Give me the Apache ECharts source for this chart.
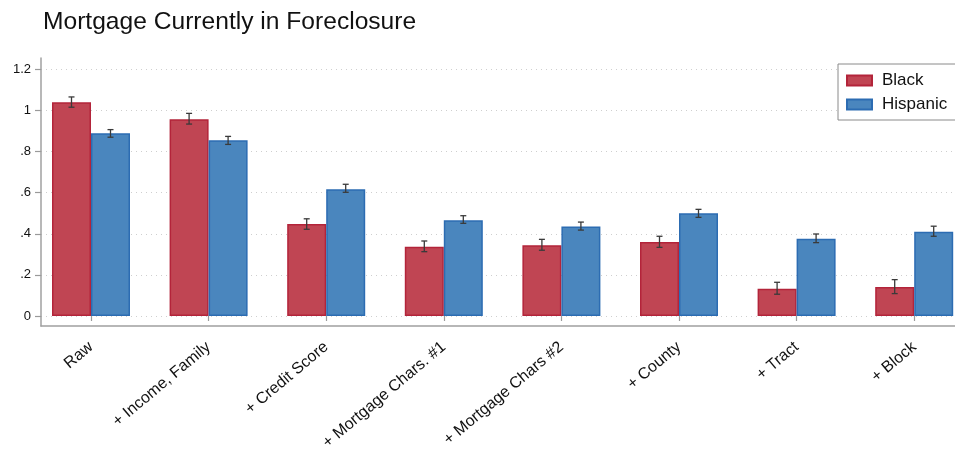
<!DOCTYPE html>
<html>
<head>
<meta charset="utf-8">
<script src="https://cdn.jsdelivr.net/npm/echarts@6/dist/echarts.min.js"></script>
<style>
  html, body { margin: 0; padding: 0; background: #fff; }
  #chart { width: 955px; height: 455px; }
</style>
</head>
<body>
<div id="chart"></div>
<script>
// Specification steps, left to right
const categories = ['Raw', '+ Income, Family', '+ Credit Score', '+ Mortgage Chars. #1',
  '+ Mortgage Chars #2', '+ County', '+ Tract', '+ Block'];

// Point estimates and 95% confidence bounds
const blackValues = [1.040, 0.957, 0.448, 0.337, 0.344, 0.360, 0.133, 0.141];
const blackLow    = [1.016, 0.934, 0.422, 0.313, 0.320, 0.334, 0.106, 0.109];
const blackHigh   = [1.066, 0.986, 0.473, 0.365, 0.373, 0.388, 0.164, 0.177];

const hispanicValues = [0.889, 0.855, 0.617, 0.466, 0.436, 0.500, 0.376, 0.410];
const hispanicLow    = [0.870, 0.835, 0.602, 0.451, 0.418, 0.480, 0.357, 0.388];
const hispanicHigh   = [0.907, 0.874, 0.641, 0.488, 0.457, 0.519, 0.399, 0.437];

const yTicks = [0, 0.2, 0.4, 0.6, 0.8, 1.0, 1.2];

const FONT = '"Liberation Sans", Arial, Helvetica, sans-serif';
const Y_MIN = -0.0487, Y_MAX = 1.2555;

// Horizontal layout: one step per category, the plot runs past the right edge
const CHART_W = 955;
const PLOT_LEFT = 32.2;
const STEP_PX = 117.6;
const BAR_PX = 39;
const X_MIN = -0.5;
const X_MAX = X_MIN + (CHART_W - PLOT_LEFT) / STEP_PX;
const catIndex = categories.map((_, i) => i);

function fmtTick(v) {
  if (v === 0) return '0';
  let s = String(+v.toFixed(2));
  return s.replace(/^0\./, '.');
}

function pairs(values) {
  return values.map((v, i) => [i, v]);
}

function errorBars(low, high, side) {
  return low.map((l, i) => [i, l, high[i], side]);
}

function renderErrorBar(params, api) {
  const idx = api.value(0);
  const side = api.value(3);
  const cx = api.coord([idx, 0])[0] + side * BAR_PX / 2;
  const yLo = api.coord([idx, api.value(1)])[1];
  const yHi = api.coord([idx, api.value(2)])[1];
  const cap = 3;
  const style = { stroke: '#3a3a3a', lineWidth: 1.3, fill: null };
  return {
    type: 'group',
    children: [
      { type: 'line', shape: { x1: cx, y1: yLo, x2: cx, y2: yHi }, style },
      { type: 'line', shape: { x1: cx - cap, y1: yHi, x2: cx + cap, y2: yHi }, style },
      { type: 'line', shape: { x1: cx - cap, y1: yLo, x2: cx + cap, y2: yLo }, style }
    ]
  };
}

const chart = echarts.init(document.getElementById('chart'), null, { renderer: 'canvas' });

chart.setOption({
  animation: false,
  backgroundColor: '#ffffff',
  textStyle: { fontFamily: FONT },
  title: {
    text: 'Mortgage Currently in Foreclosure',
    left: 38,
    top: 5,
    textStyle: { fontFamily: FONT, fontSize: 24.6, fontWeight: 'normal', color: '#111' }
  },
  legend: {
    orient: 'vertical',
    left: 838,
    top: 64,
    padding: [8, 14, 7, 8],
    itemWidth: 25,
    itemHeight: 10,
    itemGap: 7,
    icon: 'rect',
    backgroundColor: '#ffffff',
    borderColor: '#8a8a8a',
    borderWidth: 1,
    borderRadius: 0,
    textStyle: { fontFamily: FONT, fontSize: 17, color: '#111', padding: [0, 0, 0, 5] },
    data: ['Black', 'Hispanic']
  },
  grid: [
    // bars and category ticks
    { left: PLOT_LEFT, right: 0, top: 58, bottom: 129 },
    // frame: y axis with gridlines and the baseline
    { left: 41, right: 0, top: 58, bottom: 129 }
  ],
  xAxis: [
    {
      type: 'value',
      gridIndex: 0,
      min: X_MIN, max: X_MAX,
      axisLine: { show: false },
      axisTick: { show: true, customValues: catIndex, length: 5, lineStyle: { color: '#9a9a9a', width: 1.2 } },
      axisLabel: {
        customValues: catIndex, rotate: 40, margin: 19,
        fontFamily: FONT, fontSize: 16, color: '#111',
        formatter: (v) => categories[Math.round(v)]
      },
      splitLine: { show: false }
    },
    {
      type: 'value',
      gridIndex: 1,
      min: 0, max: 1,
      axisLine: { show: true, onZero: false, lineStyle: { color: '#a0a0a0', width: 1.5 } },
      axisTick: { show: false },
      axisLabel: { show: false },
      splitLine: { show: false }
    }
  ],
  yAxis: [
    {
      type: 'value',
      gridIndex: 0,
      min: Y_MIN, max: Y_MAX,
      show: false,
      splitLine: { show: false }
    },
    {
      type: 'value',
      gridIndex: 1,
      min: Y_MIN, max: Y_MAX,
      axisLine: { show: true, onZero: false, lineStyle: { color: '#a0a0a0', width: 1.5 } },
      axisTick: { show: true, customValues: yTicks, length: 6, lineStyle: { color: '#9a9a9a', width: 1.2 } },
      axisLabel: { customValues: yTicks, margin: 10, fontFamily: FONT, fontSize: 13, color: '#111', formatter: fmtTick },
      splitLine: { show: true, lineStyle: { color: '#cfcfcf', width: 1, type: [1, 4] } }
    }
  ],
  series: [
    {
      name: 'Black',
      type: 'bar',
      xAxisIndex: 0, yAxisIndex: 0,
      data: pairs(blackValues),
      barWidth: BAR_PX,
      barGap: '0%',
      itemStyle: { color: '#c04553', borderColor: '#b3243a', borderWidth: 1.5 }
    },
    {
      name: 'Hispanic',
      type: 'bar',
      xAxisIndex: 0, yAxisIndex: 0,
      data: pairs(hispanicValues),
      barWidth: BAR_PX,
      barGap: '0%',
      itemStyle: { color: '#4a86be', borderColor: '#2c6cb2', borderWidth: 1.5 }
    },
    {
      type: 'custom',
      xAxisIndex: 0, yAxisIndex: 0,
      renderItem: renderErrorBar,
      encode: { x: 0, y: [1, 2] },
      data: errorBars(blackLow, blackHigh, -1),
      z: 5
    },
    {
      type: 'custom',
      xAxisIndex: 0, yAxisIndex: 0,
      renderItem: renderErrorBar,
      encode: { x: 0, y: [1, 2] },
      data: errorBars(hispanicLow, hispanicHigh, 1),
      z: 5
    }
  ]
});
</script>
</body>
</html>
